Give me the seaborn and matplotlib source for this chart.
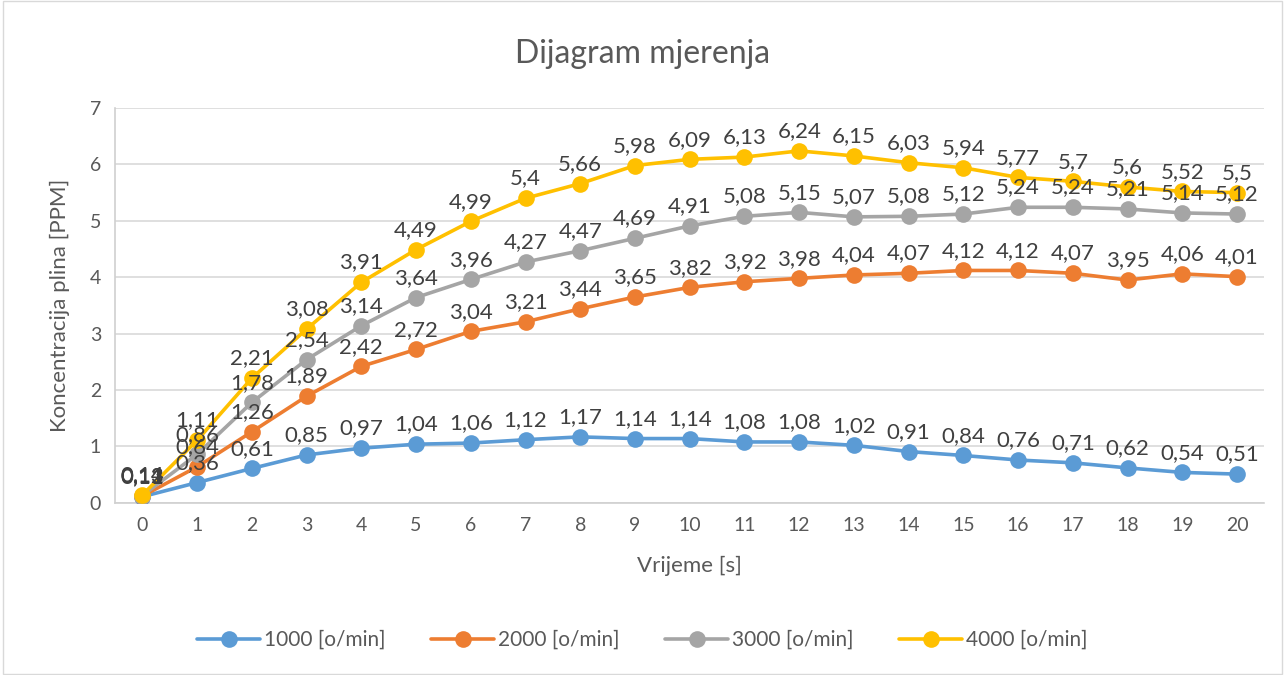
import matplotlib
matplotlib.use("Agg")
import matplotlib.pyplot as plt
import matplotlib.transforms as mtransforms
import seaborn as sns
import pandas as pd

time_s = list(range(21))
s1000 = [0.11, 0.36, 0.61, 0.85, 0.97, 1.04, 1.06, 1.12, 1.17, 1.14, 1.14, 1.08, 1.08, 1.02, 0.91, 0.84, 0.76, 0.71, 0.62, 0.54, 0.51]
s2000 = [0.12, 0.64, 1.26, 1.89, 2.42, 2.72, 3.04, 3.21, 3.44, 3.65, 3.82, 3.92, 3.98, 4.04, 4.07, 4.12, 4.12, 4.07, 3.95, 4.06, 4.01]
s3000 = [0.13, 0.86, 1.78, 2.54, 3.14, 3.64, 3.96, 4.27, 4.47, 4.69, 4.91, 5.08, 5.15, 5.07, 5.08, 5.12, 5.24, 5.24, 5.21, 5.14, 5.12]
s4000 = [0.14, 1.11, 2.21, 3.08, 3.91, 4.49, 4.99, 5.4, 5.66, 5.98, 6.09, 6.13, 6.24, 6.15, 6.03, 5.94, 5.77, 5.7, 5.6, 5.52, 5.5]
series_names = ["1000 [o/min]", "2000 [o/min]", "3000 [o/min]", "4000 [o/min]"]
colors = ["#5B9BD5", "#ED7D31", "#A5A5A5", "#FFC000"]

frames = []
for name, vals in zip(series_names, [s1000, s2000, s3000, s4000]):
    frames.append(pd.DataFrame({"t": time_s, "v": vals, "s": name}))
df = pd.concat(frames, ignore_index=True)

sns.set_theme(style="white")
plt.rcParams["font.family"] = ["Lato", "DejaVu Sans"]
txt = "#595959"

fig = plt.figure(figsize=(12.85, 6.75), dpi=100)
ax = fig.add_axes([0.0895, 0.255, 0.8945, 0.585])

sns.lineplot(data=df, x="t", y="v", hue="s", palette=colors, marker="o",
             markersize=12, linewidth=2.6, markeredgewidth=0, ax=ax, legend=True)
for ln in ax.lines:
    ln.set_zorder(3)

off = mtransforms.offset_copy(ax.transData, fig=fig, x=0, y=7, units="points")
for name, vals in zip(series_names, [s1000, s2000, s3000, s4000]):
    for t, v in zip(time_s, vals):
        lab = ("%g" % v).replace(".", ",")
        ax.text(t, v, lab, transform=off, ha="center", va="bottom",
                fontsize=16, color="#404040", zorder=20)

ax.set_xlim(-0.5, 20.5)
ax.set_ylim(0, 7)
ax.set_xticks(time_s)
ax.set_yticks(range(8))
ax.tick_params(axis="both", labelsize=14, colors=txt, length=0, pad=10)
ax.yaxis.grid(True, color="#D9D9D9", linewidth=1.2)
ax.set_axisbelow(True)
ax.xaxis.grid(False)
for sp in ["top", "right"]:
    ax.spines[sp].set_visible(False)
for sp in ["left", "bottom"]:
    ax.spines[sp].set_color("#D0D0D0")
    ax.spines[sp].set_linewidth(1.2)

ax.set_xlabel("Vrijeme [s]", fontsize=16, color=txt, labelpad=16)
ax.set_ylabel("Koncentracija plina [PPM]", fontsize=16, color=txt, labelpad=14)
fig.text(0.5, 0.92, "Dijagram mjerenja", ha="center", va="center", fontsize=23, color=txt)

handles, labels = ax.get_legend_handles_labels()
ax.legend(handles, labels, loc="center", bbox_to_anchor=(0.5, 0.052),
          bbox_transform=fig.transFigure, ncol=4, frameon=False, fontsize=15,
          labelcolor=txt, handlelength=3.0, columnspacing=2.2, handletextpad=0.2)

fig.patches.append(plt.Rectangle((0.002, 0.002), 0.996, 0.996, transform=fig.transFigure,
                                 fill=False, edgecolor="#D9D9D9", linewidth=1))
fig.savefig("out.png", dpi=100, facecolor="white")
